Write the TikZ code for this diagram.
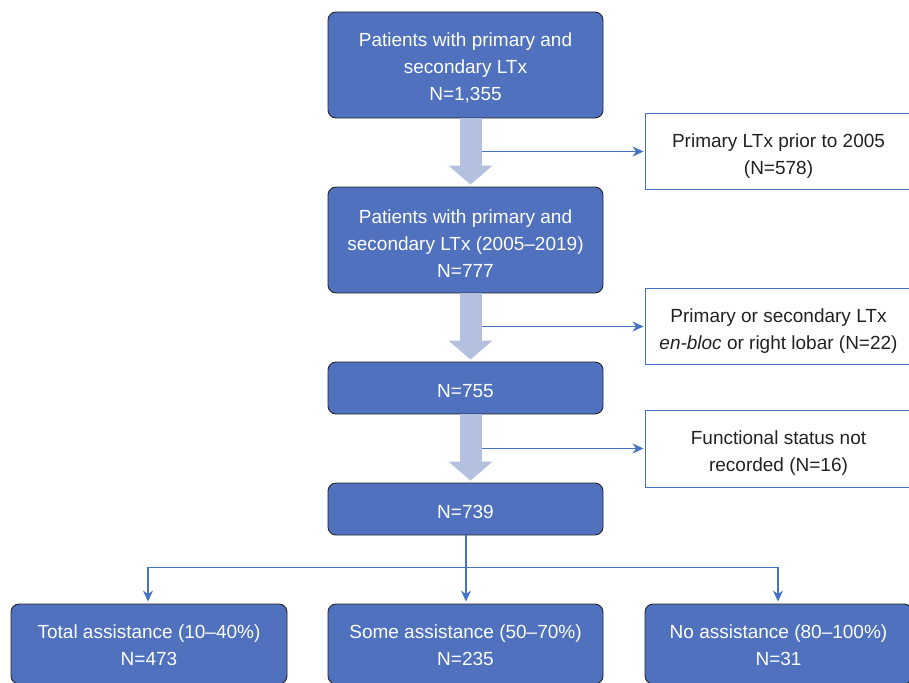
\documentclass[tikz,border=0pt]{standalone}
\usepackage{fontspec}
\setmainfont{Liberation Sans}
\usetikzlibrary{arrows.meta,calc}
\definecolor{boxblue}{HTML}{4F71BE}
\definecolor{fatarrow}{HTML}{B4C0E0}
\definecolor{lineblue}{HTML}{4472C4}
\definecolor{txtdark}{HTML}{222222}
\newcommand{\firstlinestrut}[1]{\rule{0pt}{#1}}
\tikzset{
  bluebox/.style={draw=black!85, line width=0.9pt, fill=boxblue, rounded corners=8pt,
    text=white, align=center, inner sep=0pt, font=\fontsize{19}{27}\selectfont},
  sidebox/.style={draw=lineblue, line width=1pt, fill=white, align=center, inner sep=0pt,
    text=txtdark, font=\fontsize{19}{27}\selectfont},
  fat/.style={draw=fatarrow, line width=22pt, -{Triangle[width=43pt,length=19pt]}},
  thin/.style={draw=lineblue, line width=1.2pt, -{Stealth[length=11pt,width=10pt]}},
}
\begin{document}
\begin{tikzpicture}[x=1pt,y=-1pt]
\useasboundingbox (0,0) rectangle (909,682);
\clip (0,0) rectangle (909,682);
\node[bluebox, minimum width=275pt, minimum height=106pt] (b1) at (465.5,65)
  {\firstlinestrut{20pt}Patients with primary and\\secondary LTx\\N=1,355};
\node[bluebox, minimum width=275pt, minimum height=106pt] (b2) at (465.5,240)
  {\firstlinestrut{20pt}Patients with primary and\\secondary LTx (2005--2019)\\N=777};
\node[bluebox, minimum width=275pt, minimum height=52pt] (b3) at (465.5,388)
  {\firstlinestrut{19pt}N=755};
\node[bluebox, minimum width=275pt, minimum height=52pt] (b4) at (465.5,509)
  {\firstlinestrut{18.5pt}N=739};

\node[sidebox, minimum width=267pt, minimum height=75pt] (s1) at (778.5,151.5)
  {\firstlinestrut{23.5pt}Primary LTx prior to 2005\\(N=578)};
\node[sidebox, minimum width=267pt, minimum height=76pt] (s2) at (778.5,326.5)
  {\firstlinestrut{23.5pt}Primary or secondary LTx\\\textit{en-bloc} or right lobar (N=22)};
\node[sidebox, minimum width=267pt, minimum height=77pt] (s3) at (778.5,448.5)
  {\firstlinestrut{22pt}Functional status not\\recorded (N=16)};

\node[bluebox, minimum width=276pt, minimum height=80pt] (o1) at (149,644)
  {\firstlinestrut{16.5pt}Total assistance (10--40\%)\\N=473};
\node[bluebox, minimum width=275pt, minimum height=80pt] (o2) at (465.5,644)
  {\firstlinestrut{16.5pt}Some assistance (50--70\%)\\N=235};
\node[bluebox, minimum width=267pt, minimum height=80pt] (o3) at (778.5,644)
  {\firstlinestrut{16.5pt}No assistance (80--100\%)\\N=31};

% fat arrows
\draw[fat] ($(b1.south)+(5,0)$) -- ($(b2.north)+(5,-2)$);
\draw[fat] ($(b2.south)+(5,0)$) -- ($(b3.north)+(5,-2)$);
\draw[fat] ($(b3.south)+(5,0)$) -- ($(b4.north)+(5,-2)$);

% exclusion lines
\coordinate (e1) at ($(b1.south)+(16,0)$);
\coordinate (e2) at ($(b2.south)+(16,0)$);
\coordinate (e3) at ($(b3.south)+(16,0)$);
\draw[thin] (e1 |- s1.west) -- ($(s1.west)+(-1,0)$);
\draw[thin] (e2 |- s2.west) -- ($(s2.west)+(-1,0)$);
\draw[thin] (e3 |- s3.west) -- ($(s3.west)+(-1,0)$);

% split
\coordinate (sp) at ($(b4.south)+(0.5,32)$);
\draw[draw=lineblue, line width=1.2pt] (b4.south -| sp) -- (sp);
\draw[thin] (sp) -| ($(o1.north)+(-1,-2)$);
\draw[thin] (sp) -- ($(o2.north)+(0.5,-2)$);
\draw[thin] (sp) -| ($(o3.north)+(-0.5,-2)$);
\end{tikzpicture}
\end{document}
